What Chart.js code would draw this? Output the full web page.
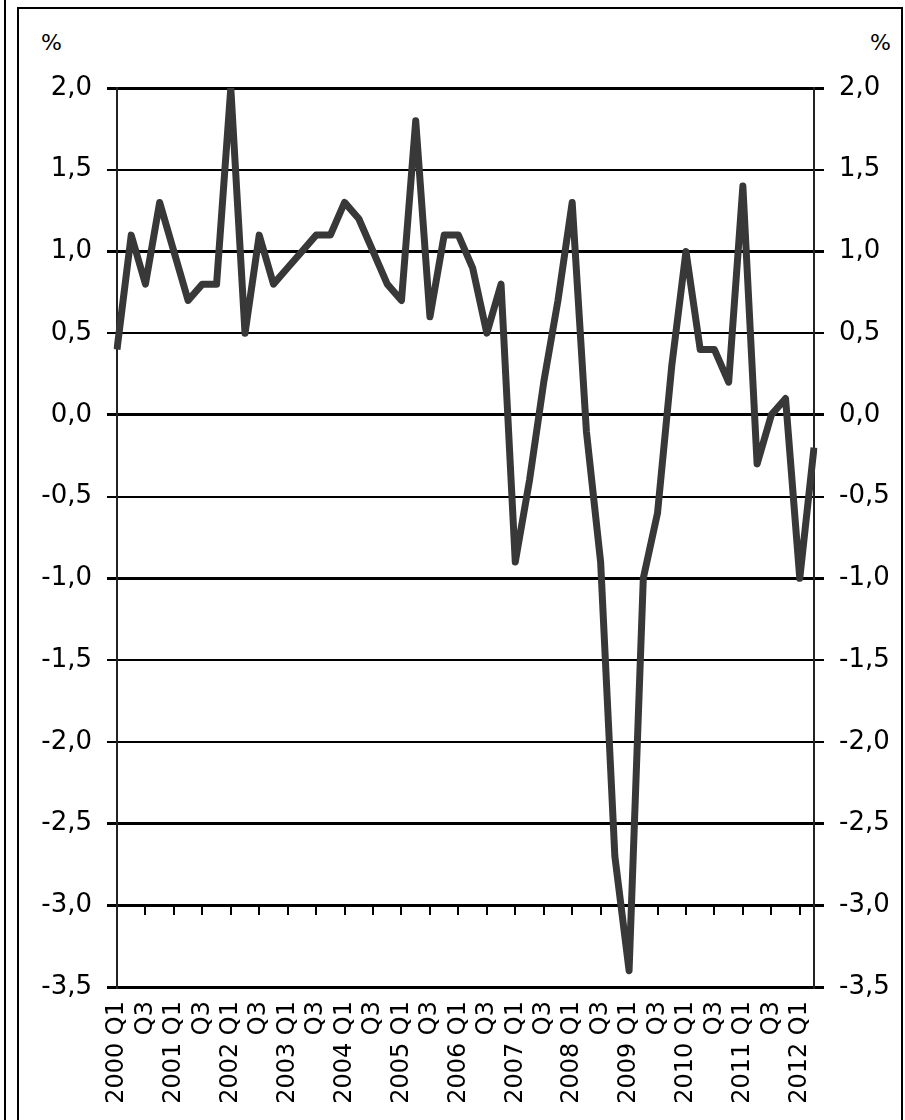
<!DOCTYPE html>
<html>
<head>
<meta charset="utf-8">
<script src="https://cdn.jsdelivr.net/npm/chart.js@4"></script>
<style>
  html, body { margin: 0; padding: 0; background: #fff; }
  body { width: 905px; height: 1120px; position: relative; overflow: hidden; font-family: "DejaVu Sans", sans-serif; }
  #edge  { position: absolute; left: 4px; top: 0; width: 2px; height: 1120px; background: #000; }
  #frame { position: absolute; left: 17px; top: 7px; width: 882px; height: 1130px; border: 2px solid #000; }
  .pct   { position: absolute; font-size: 22px; color: #000; }
  #c     { position: absolute; left: 0; top: 0; }
</style>
</head>
<body>
<div id="edge"></div>
<div id="frame"></div>
<div class="pct" style="left:41px; top:30px;">%</div>
<div class="pct" style="left:870px; top:30px;">%</div>
<canvas id="c" width="905" height="1120"></canvas>
<script>
/* Quarterly growth, %, 2000 Q1 - 2012 Q2 */

const years    = [2000, 2001, 2002, 2003, 2004, 2005, 2006, 2007, 2008, 2009, 2010, 2011, 2012];
const quarters = ["Q1", "Q2", "Q3", "Q4"];

// one value per quarter
const growth = [
   0.4,  1.1,  0.8,  1.3,   // 2000
   1.0,  0.7,  0.8,  0.8,   // 2001
   2.0,  0.5,  1.1,  0.8,   // 2002
   0.9,  1.0,  1.1,  1.1,   // 2003
   1.3,  1.2,  1.0,  0.8,   // 2004
   0.7,  1.8,  0.6,  1.1,   // 2005
   1.1,  0.9,  0.5,  0.8,   // 2006
  -0.9, -0.4,  0.2,  0.7,   // 2007
   1.3, -0.1, -0.9, -2.7,   // 2008
  -3.4, -1.0, -0.6,  0.3,   // 2009
   1.0,  0.4,  0.4,  0.2,   // 2010
   1.4, -0.3,  0.0,  0.1,   // 2011
  -1.0, -0.2                // 2012
];

const Y_MIN = -3.5, Y_MAX = 2.0, Y_STEP = 0.5;
const THICK_LINES = new Set([2.0, 1.0, 0.0, -1.0, -2.5, -3.0, -3.5]);
const TICK_ROW = -3.0;   // category tick marks hang from this line

const labels = [];
for (const y of years) for (const q of quarters) labels.push(`${y} ${q}`);
labels.length = growth.length;

const fmt = v => v.toFixed(1).replace(".", ",");
const gridWidth = ctx => (ctx.tick && THICK_LINES.has(Math.round(ctx.tick.value * 10) / 10)) ? 3 : 2;

// small downward ticks on the -3,0 line, every second quarter
const xTickMarks = {
  id: "xTickMarks",
  beforeDatasetsDraw(chart) {
    const { ctx, scales: { x, y } } = chart;
    const y0 = Math.round(y.getPixelForValue(TICK_ROW));
    ctx.save();
    ctx.strokeStyle = "#000";
    ctx.lineWidth = 2;
    ctx.beginPath();
    labels.forEach((l, i) => {
      if (i % 2 !== 0 || i === 0) return;
      const px = Math.round(x.getPixelForValue(i));
      ctx.moveTo(px, y0);
      ctx.lineTo(px, y0 + 10);
    });
    ctx.stroke();
    ctx.restore();
  }
};

const yTicks = {
  color: "#000",
  font: { family: "DejaVu Sans", size: 26 },
  padding: 15,
  stepSize: Y_STEP,
  callback: v => fmt(v),
};

new Chart(document.getElementById("c"), {
  type: "line",
  data: {
    labels,
    datasets: [{
      data: growth,
      borderColor: "#383838",
      borderWidth: 7,
      borderJoinStyle: "round",
      borderCapStyle: "butt",
      pointRadius: 0,
      tension: 0,
      fill: false,
    }],
  },
  options: {
    responsive: false,
    animation: false,
    devicePixelRatio: 1,
    layout: { padding: { top: 88, bottom: 0, left: 0, right: 0 } },
    plugins: { legend: { display: false }, tooltip: { enabled: false } },
    scales: {
      x: {
        offset: false,
        grid: { display: false, drawTicks: false },
        border: { display: false },
        ticks: {
          color: "#000",
          font: { family: "DejaVu Sans", size: 24 },
          autoSkip: false,
          minRotation: 90,
          maxRotation: 90,
          padding: 14,
          callback: (v, i) => {
            const [yr, q] = labels[i].split(" ");
            if (q === "Q1") return `${yr} Q1`;
            if (q === "Q3") return "Q3";
            return "";
          },
        },
        afterFit: s => { s.height = 133; },
      },
      y: {
        position: "left",
        min: Y_MIN, max: Y_MAX,
        grid: { color: "#000", lineWidth: gridWidth, tickLength: 10 },
        border: { display: true, color: "#222", width: 2 },
        ticks: yTicks,
        afterFit: s => { s.width = 117; },
      },
      y2: {
        position: "right",
        min: Y_MIN, max: Y_MAX,
        grid: { drawOnChartArea: false, color: "#000", lineWidth: gridWidth, tickLength: 10 },
        border: { display: true, color: "#222", width: 2 },
        ticks: yTicks,
        afterFit: s => { s.width = 91; },
      },
    },
  },
  plugins: [xTickMarks],
});
</script>
</body>
</html>
